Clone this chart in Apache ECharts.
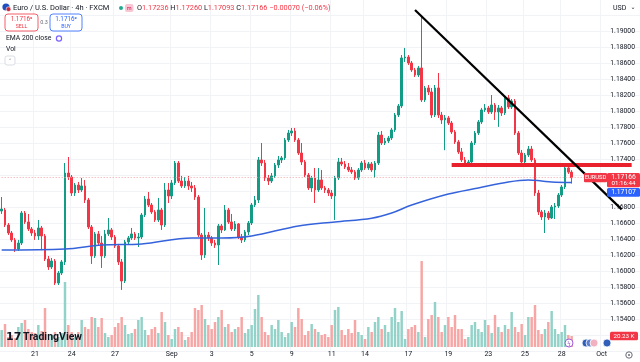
<!DOCTYPE html>
<html><head><meta charset="utf-8">
<script src="https://cdn.jsdelivr.net/npm/echarts@6/dist/echarts.min.js"></script>
<style>html,body{margin:0;padding:0;background:#fff;overflow:hidden}#c{width:640px;height:362px}</style>
</head><body><div id="c"></div>
<script>
// ---------- data (EUR/USD 4h, FXCM) ----------
const opens = [
1.1675,1.16763,1.16575,1.16475,1.16388,1.16275,1.1635,1.16725,1.16613,1.16525,
1.16475,1.16438,1.16538,1.16438,1.1615,1.1605,1.16125,1.1585,1.15975,1.16113,
1.17225,1.17175,1.16975,1.17075,1.17013,1.17063,1.16888,1.1655,1.16188,1.16463,
1.1635,1.16188,1.16463,1.16513,1.16425,1.16313,1.16113,1.15875,1.16363,1.16413,
1.16463,1.16413,1.16425,1.167,1.169,1.16825,1.16738,1.16638,1.16763,1.16575,
1.17013,1.16938,1.171,1.1735,1.17125,1.17063,1.17125,1.17063,1.17038,1.16925,
1.1645,1.162,1.1645,1.16413,1.1635,1.16325,1.16563,1.16513,1.16763,1.16613,
1.16525,1.16588,1.16425,1.16388,1.16488,1.166,1.16825,1.16888,1.17388,1.1735,
1.17163,1.17125,1.17188,1.17325,1.17388,1.17413,1.17638,1.17725,1.1775,1.17638,
1.17475,1.17363,1.172,1.17038,1.17163,1.17013,1.17138,1.17038,1.17013,1.16975,
1.16938,1.17163,1.17363,1.17338,1.173,1.17263,1.17238,1.17163,1.17263,1.1735,
1.17288,1.17338,1.17263,1.1735,1.177,1.176,1.17625,1.17663,1.17763,1.1795,
1.18063,1.18663,1.18675,1.186,1.18513,1.1845,1.18538,1.18138,1.18288,1.18238,
1.1795,1.18288,1.1795,1.17888,1.17913,1.1785,1.17738,1.17613,1.17488,1.17388,
1.17338,1.17363,1.176,1.17725,1.17863,1.18013,1.18038,1.17988,1.18075,1.17988,
1.18038,1.17975,1.18163,1.1805,1.18125,1.17725,1.17475,1.17363,1.1745,1.17525,
1.17388,1.16975,1.16738,1.16675,1.16725,1.16663,1.168,1.16813,1.1695,1.1705,
1.17288,1.17236];
const closes = [
1.16775,1.16575,1.16475,1.16388,1.16275,1.1635,1.16725,1.16613,1.16525,1.16475,
1.16438,1.16538,1.16438,1.1615,1.1605,1.16125,1.1585,1.15975,1.16113,1.17225,
1.17175,1.16975,1.17075,1.17013,1.17063,1.16888,1.1655,1.16188,1.16463,1.1635,
1.16188,1.16463,1.16513,1.16425,1.16313,1.16113,1.15875,1.16363,1.16413,1.16463,
1.16413,1.16425,1.167,1.169,1.16825,1.16738,1.16638,1.16763,1.16575,1.17013,
1.16938,1.171,1.1735,1.17125,1.17063,1.17125,1.17063,1.17038,1.16925,1.1645,
1.162,1.1645,1.16413,1.1635,1.16325,1.16563,1.16513,1.16763,1.16613,1.16525,
1.16588,1.16425,1.16388,1.16488,1.166,1.16825,1.16888,1.17388,1.1735,1.17163,
1.17125,1.17188,1.17325,1.17388,1.17413,1.17638,1.17725,1.1775,1.17638,1.17475,
1.17363,1.172,1.17038,1.17163,1.17013,1.17138,1.17038,1.17013,1.16975,1.16938,
1.17163,1.17363,1.17338,1.173,1.17263,1.17238,1.17163,1.17263,1.1735,1.17288,
1.17338,1.17263,1.1735,1.177,1.176,1.17625,1.17663,1.17763,1.1795,1.18063,
1.18663,1.18675,1.186,1.18513,1.1845,1.18538,1.18138,1.18288,1.18238,1.1795,
1.18288,1.1795,1.17888,1.17913,1.1785,1.17738,1.17613,1.17488,1.17388,1.17338,
1.17363,1.176,1.17725,1.17863,1.18013,1.18038,1.17988,1.18075,1.17988,1.18038,
1.17975,1.18163,1.1805,1.18125,1.17725,1.17475,1.17363,1.1745,1.17525,1.17388,
1.16975,1.16738,1.16675,1.16725,1.16663,1.168,1.16813,1.1695,1.1705,1.17288,
1.17236,1.17166];
const highs = [
1.16925,1.16788,1.166,1.165,1.16413,1.16388,1.1675,1.1675,1.16713,1.1655,
1.16513,1.16638,1.16563,1.16463,1.16188,1.16163,1.1615,1.16,1.16138,1.1735,
1.17425,1.172,1.171,1.17113,1.17163,1.17138,1.16913,1.16575,1.16488,1.165,
1.16438,1.16513,1.16663,1.16538,1.1645,1.16338,1.1615,1.16388,1.16438,1.16538,
1.16488,1.16475,1.16725,1.16938,1.16988,1.1685,1.16763,1.16913,1.16788,1.171,
1.171,1.17138,1.17375,1.17375,1.17188,1.17175,1.17188,1.17113,1.17075,1.1695,
1.16475,1.16788,1.16488,1.16438,1.16388,1.16588,1.16588,1.16825,1.16788,1.16713,
1.16625,1.166,1.16463,1.16513,1.16625,1.1685,1.16938,1.17425,1.176,1.17388,
1.172,1.17225,1.1735,1.17438,1.17438,1.17663,1.17763,1.17788,1.17788,1.17663,
1.176,1.17388,1.17225,1.17188,1.17288,1.17288,1.17263,1.17063,1.17038,1.17013,
1.17188,1.17413,1.17413,1.17375,1.1735,1.173,1.17263,1.17288,1.17375,1.17388,
1.17363,1.17363,1.17375,1.17738,1.1775,1.17663,1.17688,1.17788,1.17975,1.18088,
1.187,1.18788,1.187,1.18625,1.18538,1.18563,1.192,1.18313,1.18325,1.18288,
1.18325,1.18475,1.17988,1.1795,1.17938,1.17875,1.17763,1.17638,1.17538,1.17425,
1.17388,1.17625,1.1775,1.17888,1.18038,1.18088,1.18063,1.182,1.181,1.18075,
1.18063,1.18188,1.182,1.1815,1.1815,1.1775,1.17513,1.17475,1.17563,1.17563,
1.17413,1.17013,1.16763,1.16763,1.1675,1.16825,1.1685,1.16975,1.17075,1.17313,
1.17325,1.1726];
const lows = [
1.16713,1.1655,1.1645,1.16363,1.16238,1.1625,1.16325,1.16588,1.165,1.16438,
1.16388,1.16388,1.1626,1.16125,1.16013,1.16025,1.15825,1.15825,1.1595,1.16075,
1.17138,1.16938,1.16938,1.16975,1.16988,1.1685,1.16525,1.16088,1.16163,1.16313,
1.16038,1.16163,1.16438,1.16388,1.16288,1.16075,1.15763,1.1585,1.16325,1.16388,
1.16388,1.163,1.164,1.16675,1.168,1.16713,1.16613,1.16613,1.16513,1.1655,
1.1685,1.169,1.17075,1.171,1.17038,1.17038,1.17013,1.16988,1.16888,1.16425,
1.16138,1.16163,1.16375,1.16313,1.16288,1.16075,1.16475,1.165,1.16588,1.165,
1.165,1.164,1.1635,1.16363,1.1645,1.16575,1.168,1.1685,1.17313,1.17125,
1.17075,1.171,1.17163,1.17288,1.1735,1.17388,1.17613,1.17688,1.17613,1.1745,
1.17325,1.17175,1.17013,1.16988,1.1685,1.16988,1.17013,1.16975,1.16938,1.169,
1.16638,1.17138,1.17313,1.17275,1.17238,1.17213,1.17138,1.17138,1.17238,1.17263,
1.17263,1.17238,1.17163,1.17325,1.17575,1.17575,1.176,1.17638,1.17738,1.17925,
1.18038,1.18613,1.18575,1.18488,1.18425,1.18425,1.18113,1.18113,1.182,1.17913,
1.17925,1.17913,1.17838,1.1751,1.17825,1.17713,1.17588,1.17463,1.17363,1.173,
1.173,1.17325,1.17575,1.177,1.17838,1.17988,1.17963,1.17963,1.17888,1.17801,
1.17938,1.1795,1.18025,1.18025,1.177,1.1745,1.17338,1.17338,1.17425,1.17363,
1.16938,1.167,1.16638,1.16475,1.16638,1.1665,1.1665,1.16788,1.16925,1.17025,
1.17213,1.17093];
const volumes = [ // thousands
31.3,42.3,18.4,22.1,16.6,36.8,44.2,49.7,33.1,27.6,
25.8,40.5,29.4,71.8,12.9,22.1,27.6,18.4,25.8,119.6,
40.5,27.6,18.4,27.6,49.7,36.8,33.1,55.2,53.4,36.8,
53.4,25.8,18.4,22.1,36.8,44.2,55.2,40.5,23.9,25.8,
33.1,49.7,55.2,31.3,22.1,33.1,36.8,25.8,64.4,46.0,
22.1,14.7,33.1,36.8,27.6,12.9,18.4,27.6,71.8,68.1,
77.3,51.5,40.5,33.1,46.0,55.2,68.1,36.8,42.3,27.6,
33.1,36.8,55.2,25.8,33.1,40.5,69.9,95.7,55.2,27.6,
22.1,40.5,33.1,49.7,27.6,18.4,25.8,46.0,36.8,71.8,
51.5,22.1,29.4,42.3,33.1,27.6,22.1,23.9,18.4,40.5,
68.1,73.6,31.3,22.1,33.1,25.8,49.7,27.6,22.1,14.7,
36.8,27.6,46.0,55.2,33.1,40.5,27.6,55.2,71.8,46.0,
66.2,14.7,33.1,36.8,40.5,27.6,158.2,18.4,51.5,58.9,
82.8,55.2,27.6,40.5,55.2,36.8,58.9,33.1,33.1,14.7,
18.4,40.5,46.0,33.1,27.6,49.7,40.5,25.8,58.9,36.8,
27.6,40.5,33.1,64.4,36.8,27.6,42.3,22.1,55.2,55.2,
77.3,31.3,23.9,33.1,46.0,66.2,33.1,23.9,27.6,40.5,
22.1,20.23];
const emaIndex = [0,19,30,42,57,66,75,89,100,111,117,123,134,143,152,158,162,165,171];
const emaValue = [1.16263,1.16275,1.16325,1.16338,1.16413,1.16413,1.16438,1.16563,1.16613,1.1666,1.16725,1.16825,1.16963,1.17038,1.17113,1.17138,1.17125,1.17113,1.17107];
const dateLabels = ['21','24','27','Sep','3','5','9','11','14','17','19','23','25','28','Oct'];
const dateIndex = [10,21,34,51,63,75,87,99,109,122,134,146,157,168,180];
const slotCount = 192;
const lastPrice = 1.17166, emaLast = 1.17107, lastVolume = 20.23;
const resistanceLevel = 1.17325, resistanceFrom = 135, resistanceTo = 189;
const trendFrom = [124, 1.19263], trendTo = [186, 1.1677];

// ---------- chart ----------
const F = 'Roboto, "Noto Sans", "DejaVu Sans", sans-serif';
const UP = '#129b85', DN = '#f23645';
const cats = Array.from({length: slotCount}, (_, i) => { const k = dateIndex.indexOf(i); return k >= 0 ? dateLabels[k] : ''; });
const candles = opens.map((o, i) => [o, closes[i], lows[i], highs[i]]);
const vols = volumes.map((v, i) => ({value: v, itemStyle: {color: closes[i] >= opens[i] ? '#93d2c8' : '#f6a6a5'}}));
const chart = echarts.init(document.getElementById('c'), null, {renderer: 'canvas'});
const option = {
  animation: false,
  backgroundColor: '#ffffff',
  textStyle: {fontFamily: F},
  grid: [
    {left: 0, right: 0, top: -1, height: 352, containLabel: false, outerBoundsMode: 'none'},
    {left: 0, right: 0, top: 257, height: 90, containLabel: false, outerBoundsMode: 'none'}
  ],
  xAxis: [
    {type: 'category', gridIndex: 0, data: cats, boundaryGap: true,
     axisLine: {show: false}, axisTick: {show: false}, axisLabel: {show: false},
     splitLine: {show: true, interval: (i, v) => v !== '', lineStyle: {color: '#f1f3f7', width: 1}}},
    {type: 'category', gridIndex: 1, data: cats, boundaryGap: true,
     axisLine: {show: false}, axisTick: {show: false},
     axisLabel: {show: true, interval: (i, v) => v !== '', margin: 4, fontSize: 7, color: '#131722', fontFamily: F},
     splitLine: {show: false}}
  ],
  yAxis: [
    {type: 'value', gridIndex: 0, position: 'right', min: 1.150, max: 1.194, interval: 0.002,
     axisLine: {show: false}, axisTick: {show: false},
     axisLabel: {inside: true, margin: 5, fontSize: 6.8, color: '#131722', fontFamily: F,
       formatter: v => (v > 1.1905 || v < 1.1535 || Math.abs(v - 1.172) < 1e-7) ? '' : v.toFixed(5)},
     splitLine: {show: true, lineStyle: {color: '#f1f3f7', width: 1}}},
    {type: 'value', gridIndex: 1, min: 0, max: 165.6, show: false, splitLine: {show: false}}
  ],
  series: [
    {type: 'bar', name: 'Vol', xAxisIndex: 1, yAxisIndex: 1, data: vols, barWidth: '74%', z: 1, silent: true},
    {type: 'candlestick', name: 'EURUSD', xAxisIndex: 0, yAxisIndex: 0, data: candles, barWidth: '70%', z: 3,
     itemStyle: {color: UP, color0: DN, borderColor: UP, borderColor0: DN, borderWidth: 1},
     markLine: {symbol: ['none', 'none'], silent: true, animation: false, label: {show: false}, z: 5,
       data: [
         [{coord: [0, lastPrice], lineStyle: {color: '#f4a3a9', width: 1, type: [1, 2]}}, {coord: [176, lastPrice]}],
         [{coord: [resistanceFrom, resistanceLevel], lineStyle: {color: '#e8212d', width: 4, type: 'solid'}}, {coord: [resistanceTo, resistanceLevel]}],
         [{coord: trendFrom, lineStyle: {color: '#000000', width: 2.2, type: 'solid'}}, {coord: trendTo}]
       ]}},
    {type: 'line', name: 'EMA 200', xAxisIndex: 0, yAxisIndex: 0, data: emaIndex.map((x, k) => [x, emaValue[k]]),
     smooth: 0.35, showSymbol: false, z: 4, lineStyle: {color: '#3563dc', width: 1.5}}
  ]
};
chart.setOption(option);

const yLast = chart.convertToPixel({yAxisIndex: 0}, lastPrice);
const yEma = chart.convertToPixel({yAxisIndex: 0}, emaLast);
const yVol = chart.convertToPixel({yAxisIndex: 1}, lastVolume);
const redTop = yLast - 4.8, redBot = yLast + 9.5;
const g = [];
const T = (x, y, text, size, fill, extra) => g.push(Object.assign({type: 'text', x: x, y: y, z: 100,
  style: Object.assign({text: text, font: size + 'px ' + F, fill: fill, verticalAlign: 'middle'}, extra || {})}));
const R = (x, y, w, h, fill, stroke, r) => g.push({type: 'rect', z: 99, shape: {x: x, y: y, width: w, height: h, r: r || 0},
  style: {fill: fill, stroke: stroke || null, lineWidth: stroke ? 0.8 : 0}});
// header
g.push({type: 'circle', z: 100, shape: {cx: 6, cy: 7, r: 3.6}, style: {fill: '#1f4fbf'}});
g.push({type: 'circle', z: 101, shape: {cx: 8.5, cy: 9.2, r: 2.4}, style: {fill: '#c8283a', stroke: '#fff', lineWidth: 0.6}});
T(13, 8, 'Euro / U.S. Dollar · 4h · FXCM', 7.5, '#131722');
g.push({type: 'circle', z: 100, shape: {cx: 121, cy: 8, r: 2}, style: {fill: '#22ab94'}});
R(125, 4, 8.5, 8, '#f9c6d3', null, 2);
T(129.2, 8.2, 'm', 5.5, '#d81b60', {align: 'center'});
T(137, 8, '{l|O}{v|1.17236} {l|H}{v|1.17260} {l|L}{v|1.17093} {l|C}{v|1.17166} {v|−0.00070 (−0.06%)}', 7.3, '#131722',
  {rich: {l: {fill: '#131722', font: '7.3px ' + F}, v: {fill: DN, font: '7.3px ' + F}}});
// sell / buy
R(5, 14, 33, 17, '#ffffff', DN, 3);
T(21.5, 19.5, '1.1716⁹', 6.3, DN, {align: 'center'});
T(21.5, 26.5, 'SELL', 5.2, DN, {align: 'center'});
T(44, 23, '0.3', 5.5, '#6a6d78', {align: 'center'});
R(50, 14, 32, 17, '#ffffff', '#2962ff', 3);
T(66, 19.5, '1.1716⁹', 6.3, '#2962ff', {align: 'center'});
T(66, 26.5, 'BUY', 5.2, '#2962ff', {align: 'center'});
T(6, 38.5, 'EMA 200 close', 6.8, '#131722');
g.push({type: 'circle', z: 100, shape: {cx: 59, cy: 38.5, r: 2.6}, style: {fill: 'none', stroke: '#7b61ff', lineWidth: 1.2}});
T(6, 49.5, 'Vol', 6.8, '#131722');
R(5, 56, 10, 9, '#ffffff', '#d1d4dc', 2);
T(10, 61, '˄', 6, '#131722', {align: 'center'});
// top right
T(613, 8, 'USD', 7, '#131722');
T(633, 7.5, '⌄', 6, '#131722', {align: 'center'});
// price scale labels
R(584, yLast - 4.6, 23, 9.2, DN, null, 1);
T(595.5, yLast, 'EURUSD', 5.8, '#ffffff', {align: 'center'});
R(607, redTop, 33, redBot - redTop, DN, null, 1.5);
T(623.5, yLast, '1.17166', 6.8, '#ffffff', {align: 'center'});
T(623.5, yLast + 5.8, '01:16:44', 6.2, '#ffffff', {align: 'center'});
R(607, Math.max(redBot + 0.8, yEma - 4.4), 33, 8.8, '#2962ff', null, 1.5);
T(623.5, Math.max(redBot + 0.8, yEma - 4.4) + 4.4, '1.17107', 6.8, '#ffffff', {align: 'center'});
R(610, yVol - 4.3, 28, 8.6, DN, null, 1.5);
T(624, yVol, '20.23 K', 6.2, '#ffffff', {align: 'center'});
// event markers
g.push({type: 'circle', z: 100, shape: {cx: 569, cy: 343, r: 4}, style: {fill: '#fff', stroke: '#a35bd6', lineWidth: 1}});
T(569, 343, 'ϟ', 6, '#a35bd6', {align: 'center'});
g.push({type: 'circle', z: 100, shape: {cx: 586, cy: 343, r: 4}, style: {fill: '#2f5fb8', stroke: '#fff', lineWidth: 0.8}});
g.push({type: 'circle', z: 101, shape: {cx: 590, cy: 343, r: 4}, style: {fill: '#5b7fd0', stroke: '#fff', lineWidth: 0.8}});
g.push({type: 'circle', z: 102, shape: {cx: 594, cy: 343, r: 4}, style: {fill: '#f2b1c0', stroke: '#fff', lineWidth: 0.8}});
g.push({type: 'circle', z: 100, shape: {cx: 607, cy: 343, r: 4}, style: {fill: '#2f5fb8', stroke: '#fff', lineWidth: 0.8}});
// TradingView logo
T(6, 337, '17', 11, '#131722', {font: 'bold 11px "DejaVu Sans", sans-serif'});
T(23, 337, 'TradingView', 10.5, '#131722', {font: 'bold 10.5px ' + F});
// gear
g.push({type: 'circle', z: 100, shape: {cx: 629, cy: 355, r: 3.2}, style: {fill: 'none', stroke: '#6a6d78', lineWidth: 1}});
g.push({type: 'circle', z: 100, shape: {cx: 629, cy: 355, r: 1}, style: {fill: '#6a6d78'}});
chart.setOption({graphic: g});
</script></body></html>
